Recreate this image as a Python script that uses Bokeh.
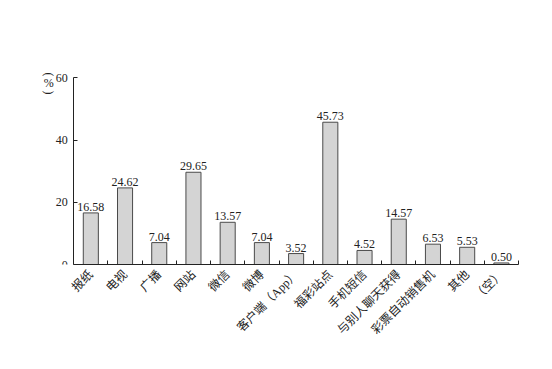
import math
from bokeh.plotting import figure
from bokeh.models import ColumnDataSource, FixedTicker, Range1d, LabelSet
from bokeh.core.properties import value
from bokeh.embed import file_html
from bokeh.resources import INLINE

# Sources of lottery information (% of respondents)
categories = ["报纸", "电视", "广播", "网站", "微信", "微博", "客户端（App）",
              "福彩站点", "手机短信", "与别人聊天获得", "彩票自动销售机", "其他", "（空）"]
shares = [16.58, 24.62, 7.04, 29.65, 13.57, 7.04, 3.52,
          45.73, 4.52, 14.57, 6.53, 5.53, 0.50]
y_ticks = [0, 20, 40, 60]
unit_label = "(%)"   # set vertically, parentheses turned

SERIF = "Liberation Serif, Noto Sans CJK SC"
TEXT_COLOR = "#222222"

n = len(categories)
centers = [i + 0.5 for i in range(n)]
source = ColumnDataSource(dict(
    x=centers,
    share=shares,
    label=[f"{v:.2f}" for v in shares],
))

# the frame reaches a little past the axes so the unit marker can sit inside it
p = figure(width=552, height=369,
           x_range=Range1d(-1.0, n), y_range=Range1d(0, 63),
           output_backend="svg", toolbar_location=None,
           min_border_left=39, min_border_right=34,
           min_border_top=68, min_border_bottom=105)
p.outline_line_color = None
p.xgrid.visible = False
p.ygrid.visible = False
p.background_fill_color = "white"
p.border_fill_color = "white"

p.vbar(x="x", top="share", width=0.44, source=source,
       fill_color="#d4d4d4", line_color="#4a4a4a", line_width=1)

p.add_layout(LabelSet(x="x", y="share", text="label", source=source,
                      y_offset=2, text_align="center", text_baseline="bottom",
                      text_font=SERIF, text_font_size="12px",
                      text_color=TEXT_COLOR))

# x axis: labels at bar centres, short inward ticks between categories
xa = p.xaxis[0]
xa.bounds = (0, n)
xa.ticker = FixedTicker(ticks=centers, minor_ticks=list(range(n + 1)))
xa.major_label_overrides = {c: lab for c, lab in zip(centers, categories)}
xa.major_label_orientation = math.pi / 4
xa.major_tick_in = 0
xa.major_tick_out = 0
xa.minor_tick_in = 4
xa.minor_tick_out = 0
xa.minor_tick_line_color = "#222222"
xa.axis_line_color = "#222222"
xa.major_label_text_font = SERIF
xa.major_label_text_font_size = "12px"
xa.major_label_text_color = TEXT_COLOR
xa.major_label_standoff = 8

# y axis, pinned at x = 0
ya = p.yaxis[0]
ya.fixed_location = 0
ya.bounds = (y_ticks[0], y_ticks[-1])
ya.ticker = FixedTicker(ticks=y_ticks)
ya.major_tick_in = 4
ya.major_tick_out = 0
ya.minor_tick_line_color = None
ya.axis_line_color = "#222222"
ya.major_tick_line_color = "#222222"
ya.major_label_text_font = SERIF
ya.major_label_text_font_size = "12px"
ya.major_label_text_color = TEXT_COLOR
ya.major_label_standoff = 6

# unit marker: stacked top to bottom beside the top of the value axis,
# the parentheses turned a quarter clockwise
chars = list(unit_label)
unit_src = ColumnDataSource(dict(
    x=[-0.73] * len(chars),
    y=[58.2 + 2.9 * (1 - k) for k in range(len(chars))],
    ch=chars,
    angle=[-math.pi / 2 if c in "()" else 0.0 for c in chars],
))
p.text(x="x", y="y", text="ch", angle="angle", source=unit_src,
       text_align="center", text_baseline="middle",
       text_font=value(SERIF), text_font_size="12px", text_color=TEXT_COLOR)

open("out.html", "w").write(file_html(p, INLINE))
